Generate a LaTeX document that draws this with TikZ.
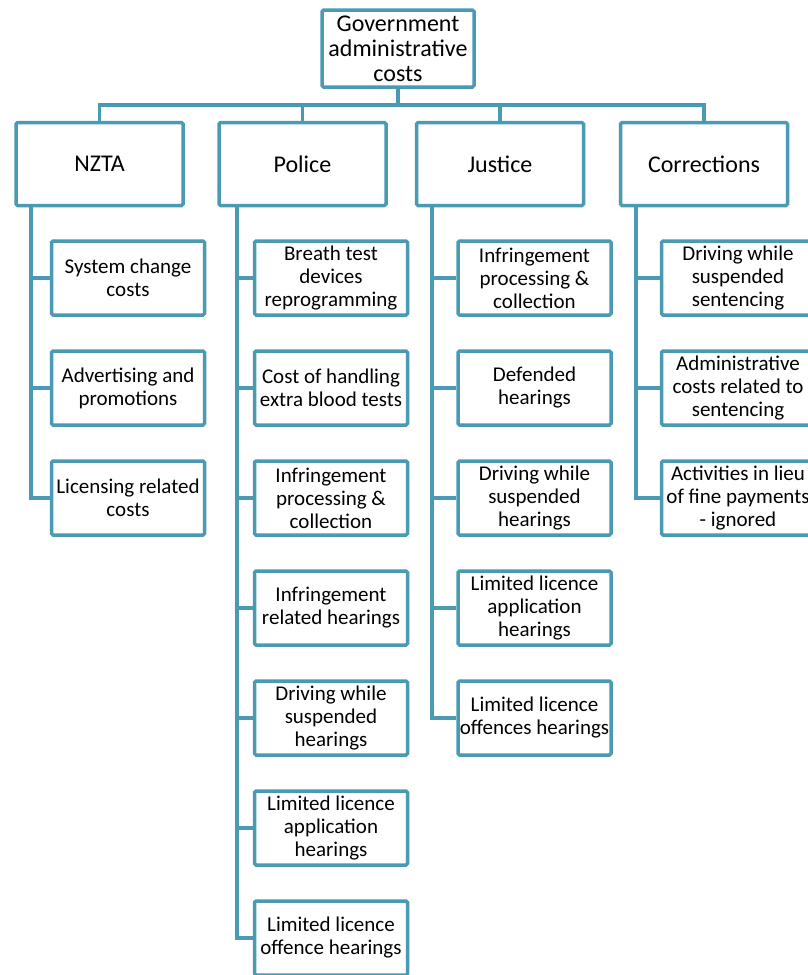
\documentclass[tikz,border=0pt]{standalone}
\usepackage{fontspec}
\setmainfont{Carlito}
\definecolor{boxline}{RGB}{74,154,179}

\begin{document}
\begin{tikzpicture}[x=1pt, y=-1pt, every node/.style={font=\fontsize{21}{23}\selectfont, align=center},
	basebox/.style={draw=boxline, line width=3.5pt, rounded corners=1.5pt, fill=white, inner sep=1pt},
	headbox/.style={basebox, minimum width=167pt, minimum height=83pt, font=\fontsize{24}{26}\selectfont},
	itembox/.style={basebox, minimum width=153pt, minimum height=74pt},
	link/.style={draw=boxline, line width=3.5pt}]
	\useasboundingbox (0,0) rectangle (808,975);
	\node[basebox, minimum width=152pt, minimum height=77pt, font=\fontsize{24}{25}\selectfont] (gov) at (398,48.5) {Government\\administrative\\costs};
	\node[headbox] (nzta) at (99.5,164) {NZTA};
	\node[headbox] (police) at (302.5,164) {Police};
	\node[headbox] (justice) at (500,164) {Justice};
	\node[headbox] (corr) at (704,164) {Corrections};
	\coordinate (bar) at (398,105);
	\draw[link] (gov.south) -- (bar);
	\draw[link] (nzta.north) |- (bar) -| (corr.north);
	\draw[link] (police.north) -- (police.north |- bar);
	\draw[link] (justice.north) -- (justice.north |- bar);

	\foreach \t [count=\i] in {{System change\\costs}, {Advertising and\\promotions}, {Licensing related\\costs}}
		\node[itembox] (nzta\i) at (128,168+110*\i) {\t};
	\foreach \t [count=\i] in {{Breath test\\devices\\reprogramming}, {Cost of handling\\extra blood tests}, {Infringement\\processing \&\\collection}, {Infringement\\related hearings}, {Driving while\\suspended\\hearings}, {Limited licence\\application\\hearings}, {Limited licence\\offence hearings}}
		\node[itembox] (police\i) at (331,168+110*\i) {\t};
	\foreach \t [count=\i] in {{Infringement\\processing \&\\collection}, {Defended\\hearings}, {Driving while\\suspended\\hearings}, {Limited licence\\application\\hearings}, {Limited licence\\offences hearings}}
		\node[itembox] (justice\i) at (534.5,168+110*\i) {\t};
	\foreach \t [count=\i] in {{Driving while\\suspended\\sentencing}, {Administrative\\costs related to\\sentencing}, {Activities in lieu\\of fine payments\\- ignored}}
		\node[itembox] (corr\i) at (738,168+110*\i) {\t};

	\coordinate (nztatrunk) at (31,207);
	\coordinate (policetrunk) at (237,207);
	\coordinate (justicetrunk) at (432,207);
	\coordinate (corrtrunk) at (636,207);
	\draw[link] (nztatrunk) |- (nzta3.west);
	\draw[link] (policetrunk) |- (police7.west);
	\draw[link] (justicetrunk) |- (justice5.west);
	\draw[link] (corrtrunk) |- (corr3.west);
	\foreach \i in {1,2}
		\draw[link] (nztatrunk |- nzta\i.west) -- (nzta\i.west);
	\foreach \i in {1,...,6}
		\draw[link] (policetrunk |- police\i.west) -- (police\i.west);
	\foreach \i in {1,...,4}
		\draw[link] (justicetrunk |- justice\i.west) -- (justice\i.west);
	\foreach \i in {1,2}
		\draw[link] (corrtrunk |- corr\i.west) -- (corr\i.west);
\end{tikzpicture}
\end{document}
